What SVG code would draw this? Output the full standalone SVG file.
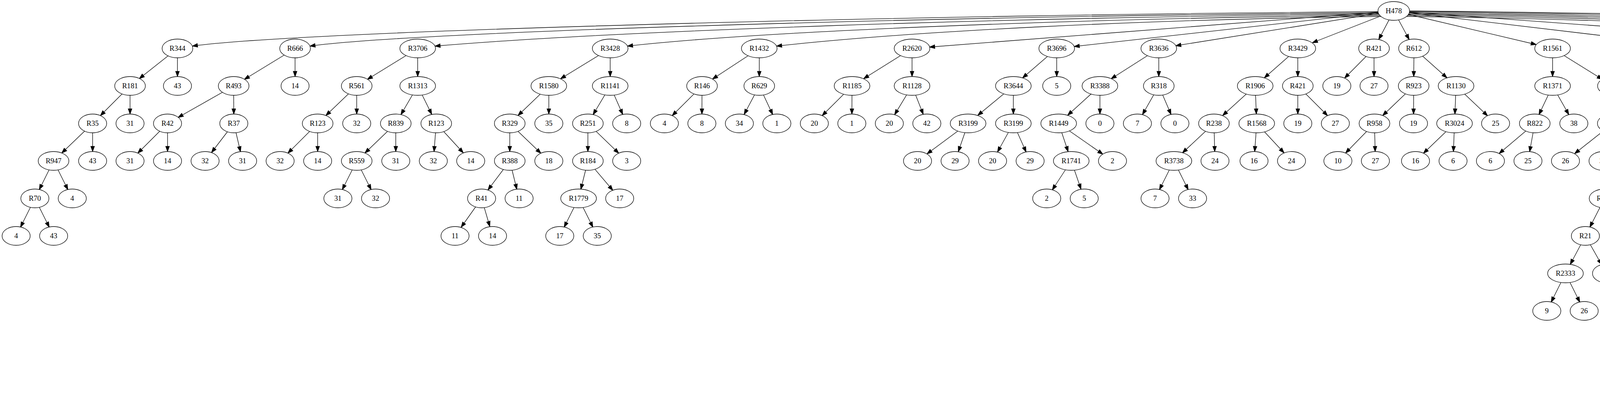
<svg xmlns="http://www.w3.org/2000/svg" width="6469" height="1019" viewBox="0 0 6469 1019">
<style>
.node ellipse{fill:#fff;stroke:#000;stroke-width:1.33}
.node text{font-family:"Liberation Serif","Times New Roman",serif;font-size:18.67px;text-anchor:middle;fill:#000}
#edges line,#edges path{stroke:#000;stroke-width:1.33;fill:none}
.mk{fill:#000;stroke:#000;stroke-width:1.33}
.c{marker-end:url(#m0)}
.e24{marker-end:url(#m24)}.e25{marker-end:url(#m25)}.e26{marker-end:url(#m26)}.e27{marker-end:url(#m27)}
.e28{marker-end:url(#m28)}.e29{marker-end:url(#m29)}.e30{marker-end:url(#m30)}.e31{marker-end:url(#m31)}
.e32{marker-end:url(#m32)}.e33{marker-end:url(#m33)}.e34{marker-end:url(#m34)}.e35{marker-end:url(#m35)}
.e40{marker-end:url(#m40)}.e43{marker-end:url(#m43)}.e44{marker-end:url(#m44)}.e45{marker-end:url(#m45)}
</style>
<defs>
<marker id="m0" markerUnits="userSpaceOnUse" viewBox="-80 -10 90 20" markerWidth="90" markerHeight="20" refX="0" refY="0" orient="auto"><path class="mk" d="M-13.3,-4.67L0,0L-13.3,4.67Z"/></marker>
<marker id="m24" markerUnits="userSpaceOnUse" viewBox="-80 -10 90 20" markerWidth="90" markerHeight="20" refX="0" refY="0" orient="auto"><path class="mk" d="M-37.3,-4.67L-24,0L-37.3,4.67Z"/></marker>
<marker id="m25" markerUnits="userSpaceOnUse" viewBox="-80 -10 90 20" markerWidth="90" markerHeight="20" refX="0" refY="0" orient="auto"><path class="mk" d="M-38.3,-4.67L-25,0L-38.3,4.67Z"/></marker>
<marker id="m26" markerUnits="userSpaceOnUse" viewBox="-80 -10 90 20" markerWidth="90" markerHeight="20" refX="0" refY="0" orient="auto"><path class="mk" d="M-39.3,-4.67L-26,0L-39.3,4.67Z"/></marker>
<marker id="m27" markerUnits="userSpaceOnUse" viewBox="-80 -10 90 20" markerWidth="90" markerHeight="20" refX="0" refY="0" orient="auto"><path class="mk" d="M-40.3,-4.67L-27,0L-40.3,4.67Z"/></marker>
<marker id="m28" markerUnits="userSpaceOnUse" viewBox="-80 -10 90 20" markerWidth="90" markerHeight="20" refX="0" refY="0" orient="auto"><path class="mk" d="M-41.3,-4.67L-28,0L-41.3,4.67Z"/></marker>
<marker id="m29" markerUnits="userSpaceOnUse" viewBox="-80 -10 90 20" markerWidth="90" markerHeight="20" refX="0" refY="0" orient="auto"><path class="mk" d="M-42.3,-4.67L-29,0L-42.3,4.67Z"/></marker>
<marker id="m30" markerUnits="userSpaceOnUse" viewBox="-80 -10 90 20" markerWidth="90" markerHeight="20" refX="0" refY="0" orient="auto"><path class="mk" d="M-43.3,-4.67L-30,0L-43.3,4.67Z"/></marker>
<marker id="m31" markerUnits="userSpaceOnUse" viewBox="-80 -10 90 20" markerWidth="90" markerHeight="20" refX="0" refY="0" orient="auto"><path class="mk" d="M-44.3,-4.67L-31,0L-44.3,4.67Z"/></marker>
<marker id="m32" markerUnits="userSpaceOnUse" viewBox="-80 -10 90 20" markerWidth="90" markerHeight="20" refX="0" refY="0" orient="auto"><path class="mk" d="M-45.3,-4.67L-32,0L-45.3,4.67Z"/></marker>
<marker id="m33" markerUnits="userSpaceOnUse" viewBox="-80 -10 90 20" markerWidth="90" markerHeight="20" refX="0" refY="0" orient="auto"><path class="mk" d="M-46.3,-4.67L-33,0L-46.3,4.67Z"/></marker>
<marker id="m34" markerUnits="userSpaceOnUse" viewBox="-80 -10 90 20" markerWidth="90" markerHeight="20" refX="0" refY="0" orient="auto"><path class="mk" d="M-47.3,-4.67L-34,0L-47.3,4.67Z"/></marker>
<marker id="m35" markerUnits="userSpaceOnUse" viewBox="-80 -10 90 20" markerWidth="90" markerHeight="20" refX="0" refY="0" orient="auto"><path class="mk" d="M-48.3,-4.67L-35,0L-48.3,4.67Z"/></marker>
<marker id="m40" markerUnits="userSpaceOnUse" viewBox="-80 -10 90 20" markerWidth="90" markerHeight="20" refX="0" refY="0" orient="auto"><path class="mk" d="M-53.3,-4.67L-40,0L-53.3,4.67Z"/></marker>
<marker id="m43" markerUnits="userSpaceOnUse" viewBox="-80 -10 90 20" markerWidth="90" markerHeight="20" refX="0" refY="0" orient="auto"><path class="mk" d="M-56.3,-4.67L-43,0L-56.3,4.67Z"/></marker>
<marker id="m44" markerUnits="userSpaceOnUse" viewBox="-80 -10 90 20" markerWidth="90" markerHeight="20" refX="0" refY="0" orient="auto"><path class="mk" d="M-57.3,-4.67L-44,0L-57.3,4.67Z"/></marker>
<marker id="m45" markerUnits="userSpaceOnUse" viewBox="-80 -10 90 20" markerWidth="90" markerHeight="20" refX="0" refY="0" orient="auto"><path class="mk" d="M-58.3,-4.67L-45,0L-58.3,4.67Z"/></marker>
</defs>
<rect x="0" y="0" width="6469" height="1019" fill="#fff"/>
<g id="edges">
<path class="c" d="M3527.6,30 C2313.5,38 755.4,80 492.4,118"/>
<path class="c" d="M3528.4,33 C2434.4,41 1069.3,80 793.5,118"/>
<path class="c" d="M3529.8,36 C2563.3,44 1562.1,80 1113.6,118"/>
<path class="c" d="M3532,39 C2761.8,47 1943.7,80 1606.4,118"/>
<path class="c" d="M3535.1,42 C2916.3,50 2334.8,80 1988,118"/>
<line x1="3568" y1="28" x2="2334.8" y2="124" class="e45"/>
<line x1="3568" y1="28" x2="2705.2" y2="124" class="e45"/>
<line x1="3568" y1="28" x2="2966.5" y2="124" class="e44"/>
<line x1="3568" y1="28" x2="3322.4" y2="124" class="e40"/>
<line x1="3568" y1="28" x2="3517.5" y2="124" class="e26"/>
<line x1="3568" y1="28" x2="3619.8" y2="124" class="e26"/>
<line x1="3568" y1="28" x2="3974.6" y2="124" class="e43"/>
<line x1="3568" y1="28" x2="4378.5" y2="124" class="e45"/>
<line x1="3568" y1="28" x2="4882.4" y2="124" class="e45"/>
<path class="c" d="M3600.9,42 C4181.7,50 4882.4,80 5052.8,118"/>
<path class="c" d="M3604,39 C4262.2,47 5097.1,80 5249.4,118"/>
<path class="c" d="M3606.2,36 C4344,44 5293.7,80 5450.8,118"/>
<path class="c" d="M3607.6,33 C4422.9,41 5488.9,80 5645.9,118"/>
<path class="c" d="M3608.4,30 C4524.3,38 5690.2,80 5898.1,118"/>
<path class="c" d="M3608.5,28 C4573.5,36 5942.4,80 6022,107"/>
<line x1="454.3" y1="124" x2="332.9" y2="220" class="e30"/>
<line x1="454.3" y1="124" x2="454.3" y2="220" class="e24"/>
<line x1="332.9" y1="220" x2="237.1" y2="316" class="e28"/>
<line x1="332.9" y1="220" x2="332.9" y2="316" class="e24"/>
<line x1="237.1" y1="316" x2="137.1" y2="412" class="e29"/>
<line x1="237.1" y1="316" x2="237.1" y2="412" class="e24"/>
<line x1="137.1" y1="412" x2="89.3" y2="508" class="e25"/>
<line x1="137.1" y1="412" x2="185" y2="508" class="e25"/>
<line x1="89.3" y1="508" x2="41.3" y2="604" class="e25"/>
<line x1="89.3" y1="508" x2="137.3" y2="604" class="e25"/>
<line x1="755.4" y1="124" x2="598.2" y2="220" class="e32"/>
<line x1="755.4" y1="124" x2="755.4" y2="220" class="e24"/>
<line x1="598.2" y1="220" x2="428.9" y2="316" class="e31"/>
<line x1="598.2" y1="220" x2="598.6" y2="316" class="e24"/>
<line x1="428.9" y1="316" x2="332.9" y2="412" class="e28"/>
<line x1="428.9" y1="316" x2="428.9" y2="412" class="e24"/>
<line x1="598.6" y1="316" x2="525" y2="412" class="e27"/>
<line x1="598.6" y1="316" x2="621.1" y2="412" class="e24"/>
<line x1="1069.3" y1="124" x2="913.2" y2="220" class="e32"/>
<line x1="1069.3" y1="124" x2="1069.3" y2="220" class="e24"/>
<line x1="913.2" y1="220" x2="813.2" y2="316" class="e29"/>
<line x1="913.2" y1="220" x2="913.2" y2="316" class="e24"/>
<line x1="813.2" y1="316" x2="717.1" y2="412" class="e28"/>
<line x1="813.2" y1="316" x2="813.2" y2="412" class="e24"/>
<line x1="1069.3" y1="220" x2="1013.2" y2="316" class="e26"/>
<line x1="1069.3" y1="220" x2="1116.8" y2="316" class="e26"/>
<line x1="1013.2" y1="316" x2="913.2" y2="412" class="e29"/>
<line x1="1013.2" y1="316" x2="1013.2" y2="412" class="e24"/>
<line x1="913.2" y1="412" x2="865" y2="508" class="e25"/>
<line x1="913.2" y1="412" x2="961.4" y2="508" class="e25"/>
<line x1="1116.8" y1="316" x2="1109.3" y2="412" class="e24"/>
<line x1="1116.8" y1="316" x2="1205" y2="412" class="e28"/>
<line x1="1562.1" y1="124" x2="1405" y2="220" class="e35"/>
<line x1="1562.1" y1="124" x2="1562.1" y2="220" class="e24"/>
<line x1="1405" y1="220" x2="1305" y2="316" class="e29"/>
<line x1="1405" y1="220" x2="1405" y2="316" class="e24"/>
<line x1="1305" y1="316" x2="1305" y2="412" class="e24"/>
<line x1="1305" y1="316" x2="1405" y2="412" class="e28"/>
<line x1="1305" y1="412" x2="1232.9" y2="508" class="e27"/>
<line x1="1305" y1="412" x2="1328.9" y2="508" class="e24"/>
<line x1="1232.9" y1="508" x2="1164.9" y2="604" class="e27"/>
<line x1="1232.9" y1="508" x2="1260.9" y2="604" class="e25"/>
<line x1="1562.1" y1="220" x2="1505" y2="316" class="e26"/>
<line x1="1562.1" y1="220" x2="1604.3" y2="316" class="e25"/>
<line x1="1505" y1="316" x2="1505" y2="412" class="e24"/>
<line x1="1505" y1="316" x2="1604.3" y2="412" class="e28"/>
<line x1="1505" y1="412" x2="1481.1" y2="508" class="e24"/>
<line x1="1505" y1="412" x2="1586.4" y2="508" class="e27"/>
<line x1="1481.1" y1="508" x2="1433" y2="604" class="e25"/>
<line x1="1481.1" y1="508" x2="1529" y2="604" class="e25"/>
<line x1="1943.7" y1="124" x2="1797.2" y2="220" class="e32"/>
<line x1="1943.7" y1="124" x2="1943.7" y2="220" class="e24"/>
<line x1="1797.2" y1="220" x2="1700.8" y2="316" class="e28"/>
<line x1="1797.2" y1="220" x2="1796.8" y2="316" class="e24"/>
<line x1="1943.7" y1="220" x2="1892.8" y2="316" class="e26"/>
<line x1="1943.7" y1="220" x2="1988.75" y2="316" class="e25"/>
<line x1="2334.8" y1="124" x2="2181.2" y2="220" class="e35"/>
<line x1="2334.8" y1="124" x2="2334.8" y2="220" class="e24"/>
<line x1="2181.2" y1="220" x2="2084.7" y2="316" class="e28"/>
<line x1="2181.2" y1="220" x2="2180.7" y2="316" class="e24"/>
<line x1="2334.8" y1="220" x2="2276.7" y2="316" class="e26"/>
<line x1="2334.8" y1="220" x2="2372.7" y2="316" class="e25"/>
<line x1="2705.2" y1="124" x2="2594.2" y2="220" class="e31"/>
<line x1="2705.2" y1="124" x2="2705.2" y2="220" class="e24"/>
<line x1="2594.2" y1="220" x2="2478.3" y2="316" class="e32"/>
<line x1="2594.2" y1="220" x2="2594.2" y2="316" class="e24"/>
<line x1="2478.3" y1="316" x2="2348.9" y2="412" class="e30"/>
<line x1="2478.3" y1="316" x2="2445" y2="412" class="e25"/>
<line x1="2594.2" y1="316" x2="2541" y2="412" class="e26"/>
<line x1="2594.2" y1="316" x2="2637.1" y2="412" class="e25"/>
<line x1="2966.5" y1="124" x2="2815.8" y2="220" class="e34"/>
<line x1="2966.5" y1="124" x2="2966.5" y2="220" class="e24"/>
<line x1="2815.8" y1="220" x2="2710.2" y2="316" class="e31"/>
<line x1="2815.8" y1="220" x2="2815.8" y2="316" class="e24"/>
<line x1="2710.2" y1="316" x2="2742.4" y2="412" class="e25"/>
<line x1="2710.2" y1="316" x2="2848" y2="412" class="e30"/>
<line x1="2742.4" y1="412" x2="2679.6" y2="508" class="e26"/>
<line x1="2742.4" y1="412" x2="2775.6" y2="508" class="e25"/>
<line x1="2966.5" y1="220" x2="2911.8" y2="316" class="e26"/>
<line x1="2966.5" y1="220" x2="3007.8" y2="316" class="e25"/>
<line x1="3322.4" y1="124" x2="3213.3" y2="220" class="e31"/>
<line x1="3322.4" y1="124" x2="3322.4" y2="220" class="e24"/>
<line x1="3213.3" y1="220" x2="3107.7" y2="316" class="e30"/>
<line x1="3213.3" y1="220" x2="3217.2" y2="316" class="e24"/>
<line x1="3107.7" y1="316" x2="3005.1" y2="412" class="e30"/>
<line x1="3107.7" y1="316" x2="3110.4" y2="412" class="e24"/>
<line x1="3005.1" y1="412" x2="2956.9" y2="508" class="e25"/>
<line x1="3005.1" y1="412" x2="3053" y2="508" class="e25"/>
<line x1="3217.2" y1="316" x2="3210.3" y2="412" class="e24"/>
<line x1="3217.2" y1="316" x2="3306.3" y2="412" class="e28"/>
<line x1="3322.4" y1="220" x2="3322.4" y2="316" class="e24"/>
<line x1="3322.4" y1="220" x2="3418.5" y2="316" class="e28"/>
<line x1="3517.5" y1="124" x2="3422.3" y2="220" class="e28"/>
<line x1="3517.5" y1="124" x2="3517.5" y2="220" class="e24"/>
<line x1="3619.8" y1="124" x2="3619" y2="220" class="e24"/>
<line x1="3619.8" y1="124" x2="3727.5" y2="220" class="e31"/>
<line x1="3619" y1="220" x2="3518.6" y2="316" class="e29"/>
<line x1="3619" y1="220" x2="3618.6" y2="316" class="e24"/>
<line x1="3518.6" y1="316" x2="3425" y2="412" class="e28"/>
<line x1="3518.6" y1="316" x2="3521" y2="412" class="e24"/>
<line x1="3727.5" y1="220" x2="3723.6" y2="316" class="e24"/>
<line x1="3727.5" y1="220" x2="3828.7" y2="316" class="e28"/>
<line x1="3723.6" y1="316" x2="3623.7" y2="412" class="e28"/>
<line x1="3723.6" y1="316" x2="3719.8" y2="412" class="e24"/>
<line x1="3974.6" y1="124" x2="3974.6" y2="220" class="e24"/>
<line x1="3974.6" y1="124" x2="4129.1" y2="220" class="e32"/>
<line x1="3974.6" y1="220" x2="3929" y2="316" class="e25"/>
<line x1="3974.6" y1="220" x2="4029" y2="316" class="e26"/>
<line x1="3929" y1="316" x2="3815.5" y2="412" class="e29"/>
<line x1="3929" y1="316" x2="3911.6" y2="412" class="e24"/>
<line x1="4129.1" y1="220" x2="4128.7" y2="316" class="e24"/>
<line x1="4129.1" y1="220" x2="4229.1" y2="316" class="e28"/>
<line x1="4128.7" y1="316" x2="4007.6" y2="412" class="e30"/>
<line x1="4128.7" y1="316" x2="4103.8" y2="412" class="e24"/>
<line x1="4378.5" y1="124" x2="4378.5" y2="220" class="e24"/>
<line x1="4378.5" y1="124" x2="4661.3" y2="220" class="e40"/>
<line x1="4378.5" y1="220" x2="4329.1" y2="316" class="e26"/>
<line x1="4378.5" y1="220" x2="4429.5" y2="316" class="e26"/>
<line x1="4329.1" y1="316" x2="4203.8" y2="412" class="e31"/>
<line x1="4329.1" y1="316" x2="4303.8" y2="412" class="e24"/>
<line x1="4203.8" y1="412" x2="4107.7" y2="508" class="e29"/>
<line x1="4203.8" y1="412" x2="4207.7" y2="508" class="e24"/>
<line x1="4107.7" y1="508" x2="4058.6" y2="604" class="e25"/>
<line x1="4107.7" y1="508" x2="4155.2" y2="604" class="e25"/>
<line x1="4058.6" y1="604" x2="4007.6" y2="700" class="e26"/>
<line x1="4058.6" y1="604" x2="4112.8" y2="700" class="e26"/>
<line x1="4007.6" y1="700" x2="3959.8" y2="796" class="e25"/>
<line x1="4007.6" y1="700" x2="4055.5" y2="796" class="e25"/>
<line x1="4429.5" y1="316" x2="4408.8" y2="412" class="e24"/>
<line x1="4429.5" y1="316" x2="4525.2" y2="412" class="e30"/>
<line x1="4408.8" y1="412" x2="4310.4" y2="508" class="e28"/>
<line x1="4408.8" y1="412" x2="4406.1" y2="508" class="e24"/>
<line x1="4525.2" y1="412" x2="4502.2" y2="508" class="e24"/>
<line x1="4525.2" y1="412" x2="4597.9" y2="508" class="e27"/>
<line x1="4661.3" y1="220" x2="4661.3" y2="316" class="e24"/>
<line x1="4661.3" y1="220" x2="4786.4" y2="316" class="e30"/>
<line x1="4661.3" y1="316" x2="4641.1" y2="412" class="e24"/>
<line x1="4661.3" y1="316" x2="4746.6" y2="412" class="e28"/>
<line x1="4641.1" y1="412" x2="4694.1" y2="508" class="e26"/>
<line x1="4641.1" y1="412" x2="4790.2" y2="508" class="e31"/>
<line x1="4786.4" y1="316" x2="4842.2" y2="412" class="e26"/>
<line x1="4786.4" y1="316" x2="4938.3" y2="412" class="e31"/>
<line x1="4882.4" y1="124" x2="4882.4" y2="220" class="e24"/>
<line x1="4882.4" y1="124" x2="4991.9" y2="220" class="e31"/>
<line x1="4882.4" y1="220" x2="4886.6" y2="316" class="e24"/>
<line x1="4882.4" y1="220" x2="4986.5" y2="316" class="e29"/>
<line x1="4886.6" y1="316" x2="5034.4" y2="412" class="e31"/>
<line x1="4886.6" y1="316" x2="5130.4" y2="412" class="e33"/>
<line x1="4991.9" y1="220" x2="5091.8" y2="316" class="e30"/>
<line x1="4991.9" y1="220" x2="5196.6" y2="316" class="e33"/>
<line x1="5091.8" y1="316" x2="5230.7" y2="412" class="e32"/>
<line x1="5091.8" y1="316" x2="5330.1" y2="412" class="e33"/>
<line x1="5230.7" y1="412" x2="5143.8" y2="508" class="e28"/>
<line x1="5230.7" y1="412" x2="5239.5" y2="508" class="e24"/>
<line x1="5097.1" y1="124" x2="5097.1" y2="220" class="e24"/>
<line x1="5097.1" y1="124" x2="5193.2" y2="220" class="e28"/>
<line x1="5293.7" y1="124" x2="5293.7" y2="220" class="e24"/>
<line x1="5293.7" y1="124" x2="5392.8" y2="220" class="e28"/>
<line x1="5293.7" y1="220" x2="5291.8" y2="316" class="e24"/>
<line x1="5293.7" y1="220" x2="5389" y2="316" class="e28"/>
<line x1="5488.9" y1="124" x2="5488.9" y2="220" class="e24"/>
<line x1="5488.9" y1="124" x2="5585" y2="220" class="e28"/>
<line x1="5690.2" y1="124" x2="5690.2" y2="220" class="e24"/>
<line x1="5690.2" y1="124" x2="5837.2" y2="220" class="e32"/>
<line x1="5690.2" y1="220" x2="5544.8" y2="316" class="e34"/>
<line x1="5690.2" y1="220" x2="5690.2" y2="316" class="e24"/>
<line x1="5544.8" y1="316" x2="5435.7" y2="412" class="e31"/>
<line x1="5544.8" y1="316" x2="5544.8" y2="412" class="e24"/>
<line x1="5435.7" y1="412" x2="5343.5" y2="508" class="e28"/>
<line x1="5435.7" y1="412" x2="5439.5" y2="508" class="e24"/>
<line x1="5544.8" y1="412" x2="5542.1" y2="508" class="e24"/>
<line x1="5544.8" y1="412" x2="5638.2" y2="508" class="e28"/>
<line x1="5542.1" y1="508" x2="5494.3" y2="604" class="e25"/>
<line x1="5542.1" y1="508" x2="5590.3" y2="604" class="e25"/>
<line x1="5690.2" y1="316" x2="5645" y2="412" class="e25"/>
<line x1="5690.2" y1="316" x2="5741.1" y2="412" class="e26"/>
<line x1="5837.2" y1="220" x2="5837.2" y2="316" class="e24"/>
<line x1="5837.2" y1="220" x2="5937" y2="316" class="e28"/>
<line x1="5837.2" y1="316" x2="5837.2" y2="412" class="e24"/>
<line x1="5837.2" y1="316" x2="5932.8" y2="412" class="e28"/>
<line x1="5942.4" y1="124" x2="6087.7" y2="220" class="e34"/>
<line x1="5942.4" y1="124" x2="6331.5" y2="220" class="e35"/>
<line x1="6087.7" y1="220" x2="6087.7" y2="316" class="e24"/>
<line x1="6087.7" y1="220" x2="6226.3" y2="316" class="e34"/>
<line x1="6087.7" y1="316" x2="6038.3" y2="412" class="e26"/>
<line x1="6087.7" y1="316" x2="6143.9" y2="412" class="e26"/>
<line x1="6226.3" y1="316" x2="6249" y2="412" class="e24"/>
<line x1="6226.3" y1="316" x2="6354.6" y2="412" class="e30"/>
<line x1="6038.3" y1="412" x2="5957.1" y2="508" class="e28"/>
<line x1="6038.3" y1="412" x2="6057.2" y2="508" class="e24"/>
<line x1="6249" y1="412" x2="6239.8" y2="508" class="e24"/>
<line x1="6249" y1="412" x2="6340" y2="508" class="e28"/>
<line x1="5957.1" y1="508" x2="5934.7" y2="604" class="e24"/>
<line x1="5957.1" y1="508" x2="6034.1" y2="604" class="e27"/>
<line x1="6239.8" y1="508" x2="6185.1" y2="604" class="e26"/>
<line x1="6239.8" y1="508" x2="6285.3" y2="604" class="e25"/>
<line x1="5934.7" y1="604" x2="5890.4" y2="700" class="e25"/>
<line x1="5934.7" y1="604" x2="5990.2" y2="700" class="e26"/>
<line x1="6185.1" y1="604" x2="6129.3" y2="700" class="e26"/>
<line x1="6185.1" y1="604" x2="6229" y2="700" class="e25"/>
<line x1="5890.4" y1="700" x2="5860" y2="796" class="e25"/>
<line x1="5890.4" y1="700" x2="5959.4" y2="796" class="e27"/>
<line x1="6129.3" y1="700" x2="6059.5" y2="796" class="e27"/>
<line x1="6129.3" y1="700" x2="6159.7" y2="796" class="e25"/>
<line x1="5860" y1="796" x2="5814.2" y2="892" class="e25"/>
<line x1="5860" y1="796" x2="5910.1" y2="892" class="e26"/>
<line x1="6059.5" y1="796" x2="6010.6" y2="892" class="e25"/>
<line x1="6059.5" y1="796" x2="6106.1" y2="892" class="e25"/>
<line x1="5814.2" y1="892" x2="5766.4" y2="988" class="e25"/>
<line x1="5814.2" y1="892" x2="5862.4" y2="988" class="e25"/>
<line x1="6010.6" y1="892" x2="5982.1" y2="988" class="e25"/>
<line x1="6010.6" y1="892" x2="6078" y2="988" class="e27"/>
<line x1="6331.5" y1="220" x2="6331.5" y2="316" class="e24"/>
<line x1="6331.5" y1="220" x2="6427.8" y2="316" class="e28"/>
</g>
<g id="nodes">
<g id="n0" class="node"><ellipse cx="3568" cy="28" rx="40.5" ry="24"/><text x="3568" y="34">H478</text></g>
<g id="n1" class="node"><ellipse cx="454.3" cy="124" rx="39.3" ry="24"/><text x="454.3" y="130">R344</text></g>
<g id="n2" class="node"><ellipse cx="755.4" cy="124" rx="39.3" ry="24"/><text x="755.4" y="130">R666</text></g>
<g id="n3" class="node"><ellipse cx="1069.3" cy="124" rx="45.7" ry="24"/><text x="1069.3" y="130">R3706</text></g>
<g id="n4" class="node"><ellipse cx="1562.1" cy="124" rx="45.7" ry="24"/><text x="1562.1" y="130">R3428</text></g>
<g id="n5" class="node"><ellipse cx="1943.7" cy="124" rx="45.7" ry="24"/><text x="1943.7" y="130">R1432</text></g>
<g id="n6" class="node"><ellipse cx="2334.8" cy="124" rx="45.7" ry="24"/><text x="2334.8" y="130">R2620</text></g>
<g id="n7" class="node"><ellipse cx="2705.2" cy="124" rx="45.7" ry="24"/><text x="2705.2" y="130">R3696</text></g>
<g id="n8" class="node"><ellipse cx="2966.5" cy="124" rx="45.7" ry="24"/><text x="2966.5" y="130">R3636</text></g>
<g id="n9" class="node"><ellipse cx="3322.4" cy="124" rx="45.7" ry="24"/><text x="3322.4" y="130">R3429</text></g>
<g id="n10" class="node"><ellipse cx="3517.5" cy="124" rx="39.3" ry="24"/><text x="3517.5" y="130">R421</text></g>
<g id="n11" class="node"><ellipse cx="3619.8" cy="124" rx="39.3" ry="24"/><text x="3619.8" y="130">R612</text></g>
<g id="n12" class="node"><ellipse cx="3974.6" cy="124" rx="45.7" ry="24"/><text x="3974.6" y="130">R1561</text></g>
<g id="n13" class="node"><ellipse cx="4378.5" cy="124" rx="45.7" ry="24"/><text x="4378.5" y="130">R3610</text></g>
<g id="n14" class="node"><ellipse cx="4882.4" cy="124" rx="45.7" ry="24"/><text x="4882.4" y="130">R3269</text></g>
<g id="n15" class="node"><ellipse cx="5097.1" cy="124" rx="45.7" ry="24"/><text x="5097.1" y="130">R1121</text></g>
<g id="n16" class="node"><ellipse cx="5293.7" cy="124" rx="45.7" ry="24"/><text x="5293.7" y="130">R3071</text></g>
<g id="n17" class="node"><ellipse cx="5488.9" cy="124" rx="39.3" ry="24"/><text x="5488.9" y="130">R116</text></g>
<g id="n18" class="node"><ellipse cx="5690.2" cy="124" rx="45.7" ry="24"/><text x="5690.2" y="130">R3444</text></g>
<g id="n19" class="node"><ellipse cx="5942.4" cy="124" rx="45.7" ry="24"/><text x="5942.4" y="130">R3417</text></g>
<g id="n20" class="node"><ellipse cx="6048" cy="124" rx="36" ry="24"/><text x="6048" y="130">39</text></g>
<g id="a1" class="node"><ellipse cx="332.9" cy="220" rx="39.3" ry="24"/><text x="332.9" y="226">R181</text></g>
<g id="a2" class="node"><ellipse cx="454.3" cy="220" rx="36" ry="24"/><text x="454.3" y="226">43</text></g>
<g id="a3" class="node"><ellipse cx="237.1" cy="316" rx="36" ry="24"/><text x="237.1" y="322">R35</text></g>
<g id="a4" class="node"><ellipse cx="332.9" cy="316" rx="36" ry="24"/><text x="332.9" y="322">31</text></g>
<g id="a5" class="node"><ellipse cx="137.1" cy="412" rx="39.3" ry="24"/><text x="137.1" y="418">R947</text></g>
<g id="a6" class="node"><ellipse cx="237.1" cy="412" rx="36" ry="24"/><text x="237.1" y="418">43</text></g>
<g id="a7" class="node"><ellipse cx="89.3" cy="508" rx="36" ry="24"/><text x="89.3" y="514">R70</text></g>
<g id="a8" class="node"><ellipse cx="185" cy="508" rx="36" ry="24"/><text x="185" y="514">4</text></g>
<g id="a9" class="node"><ellipse cx="41.3" cy="604" rx="36" ry="24"/><text x="41.3" y="610">4</text></g>
<g id="a10" class="node"><ellipse cx="137.3" cy="604" rx="36" ry="24"/><text x="137.3" y="610">43</text></g>
<g id="b1" class="node"><ellipse cx="598.2" cy="220" rx="39.3" ry="24"/><text x="598.2" y="226">R493</text></g>
<g id="b2" class="node"><ellipse cx="755.4" cy="220" rx="36" ry="24"/><text x="755.4" y="226">14</text></g>
<g id="b3" class="node"><ellipse cx="428.9" cy="316" rx="36" ry="24"/><text x="428.9" y="322">R42</text></g>
<g id="b4" class="node"><ellipse cx="598.6" cy="316" rx="36" ry="24"/><text x="598.6" y="322">R37</text></g>
<g id="b5" class="node"><ellipse cx="332.9" cy="412" rx="36" ry="24"/><text x="332.9" y="418">31</text></g>
<g id="b6" class="node"><ellipse cx="428.9" cy="412" rx="36" ry="24"/><text x="428.9" y="418">14</text></g>
<g id="b7" class="node"><ellipse cx="525" cy="412" rx="36" ry="24"/><text x="525" y="418">32</text></g>
<g id="b8" class="node"><ellipse cx="621.1" cy="412" rx="36" ry="24"/><text x="621.1" y="418">31</text></g>
<g id="c1" class="node"><ellipse cx="913.2" cy="220" rx="39.3" ry="24"/><text x="913.2" y="226">R561</text></g>
<g id="c2" class="node"><ellipse cx="1069.3" cy="220" rx="45.7" ry="24"/><text x="1069.3" y="226">R1313</text></g>
<g id="c3" class="node"><ellipse cx="813.2" cy="316" rx="39.3" ry="24"/><text x="813.2" y="322">R123</text></g>
<g id="c4" class="node"><ellipse cx="913.2" cy="316" rx="36" ry="24"/><text x="913.2" y="322">32</text></g>
<g id="c5" class="node"><ellipse cx="1013.2" cy="316" rx="39.3" ry="24"/><text x="1013.2" y="322">R839</text></g>
<g id="c6" class="node"><ellipse cx="1116.8" cy="316" rx="39.3" ry="24"/><text x="1116.8" y="322">R123</text></g>
<g id="c7" class="node"><ellipse cx="717.1" cy="412" rx="36" ry="24"/><text x="717.1" y="418">32</text></g>
<g id="c8" class="node"><ellipse cx="813.2" cy="412" rx="36" ry="24"/><text x="813.2" y="418">14</text></g>
<g id="c9" class="node"><ellipse cx="913.2" cy="412" rx="39.3" ry="24"/><text x="913.2" y="418">R559</text></g>
<g id="c10" class="node"><ellipse cx="1013.2" cy="412" rx="36" ry="24"/><text x="1013.2" y="418">31</text></g>
<g id="c11" class="node"><ellipse cx="1109.3" cy="412" rx="36" ry="24"/><text x="1109.3" y="418">32</text></g>
<g id="c12" class="node"><ellipse cx="1205" cy="412" rx="36" ry="24"/><text x="1205" y="418">14</text></g>
<g id="c13" class="node"><ellipse cx="865" cy="508" rx="36" ry="24"/><text x="865" y="514">31</text></g>
<g id="c14" class="node"><ellipse cx="961.4" cy="508" rx="36" ry="24"/><text x="961.4" y="514">32</text></g>
<g id="d1" class="node"><ellipse cx="1405" cy="220" rx="45.7" ry="24"/><text x="1405" y="226">R1580</text></g>
<g id="d2" class="node"><ellipse cx="1562.1" cy="220" rx="45.7" ry="24"/><text x="1562.1" y="226">R1141</text></g>
<g id="d3" class="node"><ellipse cx="1305" cy="316" rx="39.3" ry="24"/><text x="1305" y="322">R329</text></g>
<g id="d4" class="node"><ellipse cx="1405" cy="316" rx="36" ry="24"/><text x="1405" y="322">35</text></g>
<g id="d5" class="node"><ellipse cx="1505" cy="316" rx="39.3" ry="24"/><text x="1505" y="322">R251</text></g>
<g id="d6" class="node"><ellipse cx="1604.3" cy="316" rx="36" ry="24"/><text x="1604.3" y="322">8</text></g>
<g id="d7" class="node"><ellipse cx="1305" cy="412" rx="39.3" ry="24"/><text x="1305" y="418">R388</text></g>
<g id="d8" class="node"><ellipse cx="1405" cy="412" rx="36" ry="24"/><text x="1405" y="418">18</text></g>
<g id="d9" class="node"><ellipse cx="1505" cy="412" rx="39.3" ry="24"/><text x="1505" y="418">R184</text></g>
<g id="d10" class="node"><ellipse cx="1604.3" cy="412" rx="36" ry="24"/><text x="1604.3" y="418">3</text></g>
<g id="d11" class="node"><ellipse cx="1232.9" cy="508" rx="36" ry="24"/><text x="1232.9" y="514">R41</text></g>
<g id="d12" class="node"><ellipse cx="1328.9" cy="508" rx="36" ry="24"/><text x="1328.9" y="514">11</text></g>
<g id="d13" class="node"><ellipse cx="1481.1" cy="508" rx="45.7" ry="24"/><text x="1481.1" y="514">R1779</text></g>
<g id="d14" class="node"><ellipse cx="1586.4" cy="508" rx="36" ry="24"/><text x="1586.4" y="514">17</text></g>
<g id="d15" class="node"><ellipse cx="1164.9" cy="604" rx="36" ry="24"/><text x="1164.9" y="610">11</text></g>
<g id="d16" class="node"><ellipse cx="1260.9" cy="604" rx="36" ry="24"/><text x="1260.9" y="610">14</text></g>
<g id="d17" class="node"><ellipse cx="1433" cy="604" rx="36" ry="24"/><text x="1433" y="610">17</text></g>
<g id="d18" class="node"><ellipse cx="1529" cy="604" rx="36" ry="24"/><text x="1529" y="610">35</text></g>
<g id="e1" class="node"><ellipse cx="1797.2" cy="220" rx="39.3" ry="24"/><text x="1797.2" y="226">R146</text></g>
<g id="e2" class="node"><ellipse cx="1943.7" cy="220" rx="39.3" ry="24"/><text x="1943.7" y="226">R629</text></g>
<g id="e3" class="node"><ellipse cx="1700.8" cy="316" rx="36" ry="24"/><text x="1700.8" y="322">4</text></g>
<g id="e4" class="node"><ellipse cx="1796.8" cy="316" rx="36" ry="24"/><text x="1796.8" y="322">8</text></g>
<g id="e5" class="node"><ellipse cx="1892.8" cy="316" rx="36" ry="24"/><text x="1892.8" y="322">34</text></g>
<g id="e6" class="node"><ellipse cx="1988.75" cy="316" rx="36" ry="24"/><text x="1988.75" y="322">1</text></g>
<g id="f1" class="node"><ellipse cx="2181.2" cy="220" rx="45.7" ry="24"/><text x="2181.2" y="226">R1185</text></g>
<g id="f2" class="node"><ellipse cx="2334.8" cy="220" rx="45.7" ry="24"/><text x="2334.8" y="226">R1128</text></g>
<g id="f3" class="node"><ellipse cx="2084.7" cy="316" rx="36" ry="24"/><text x="2084.7" y="322">20</text></g>
<g id="f4" class="node"><ellipse cx="2180.7" cy="316" rx="36" ry="24"/><text x="2180.7" y="322">1</text></g>
<g id="f5" class="node"><ellipse cx="2276.7" cy="316" rx="36" ry="24"/><text x="2276.7" y="322">20</text></g>
<g id="f6" class="node"><ellipse cx="2372.7" cy="316" rx="36" ry="24"/><text x="2372.7" y="322">42</text></g>
<g id="g1" class="node"><ellipse cx="2594.2" cy="220" rx="45.7" ry="24"/><text x="2594.2" y="226">R3644</text></g>
<g id="g2" class="node"><ellipse cx="2705.2" cy="220" rx="36" ry="24"/><text x="2705.2" y="226">5</text></g>
<g id="g3" class="node"><ellipse cx="2478.3" cy="316" rx="45.7" ry="24"/><text x="2478.3" y="322">R3199</text></g>
<g id="g4" class="node"><ellipse cx="2594.2" cy="316" rx="45.7" ry="24"/><text x="2594.2" y="322">R3199</text></g>
<g id="g5" class="node"><ellipse cx="2348.9" cy="412" rx="36" ry="24"/><text x="2348.9" y="418">20</text></g>
<g id="g6" class="node"><ellipse cx="2445" cy="412" rx="36" ry="24"/><text x="2445" y="418">29</text></g>
<g id="g7" class="node"><ellipse cx="2541" cy="412" rx="36" ry="24"/><text x="2541" y="418">20</text></g>
<g id="g8" class="node"><ellipse cx="2637.1" cy="412" rx="36" ry="24"/><text x="2637.1" y="418">29</text></g>
<g id="h1" class="node"><ellipse cx="2815.8" cy="220" rx="45.7" ry="24"/><text x="2815.8" y="226">R3388</text></g>
<g id="h2" class="node"><ellipse cx="2966.5" cy="220" rx="39.3" ry="24"/><text x="2966.5" y="226">R318</text></g>
<g id="h3" class="node"><ellipse cx="2710.2" cy="316" rx="45.7" ry="24"/><text x="2710.2" y="322">R1449</text></g>
<g id="h4" class="node"><ellipse cx="2815.8" cy="316" rx="36" ry="24"/><text x="2815.8" y="322">0</text></g>
<g id="h5" class="node"><ellipse cx="2911.8" cy="316" rx="36" ry="24"/><text x="2911.8" y="322">7</text></g>
<g id="h6" class="node"><ellipse cx="3007.8" cy="316" rx="36" ry="24"/><text x="3007.8" y="322">0</text></g>
<g id="h7" class="node"><ellipse cx="2742.4" cy="412" rx="45.7" ry="24"/><text x="2742.4" y="418">R1741</text></g>
<g id="h8" class="node"><ellipse cx="2848" cy="412" rx="36" ry="24"/><text x="2848" y="418">2</text></g>
<g id="h9" class="node"><ellipse cx="2679.6" cy="508" rx="36" ry="24"/><text x="2679.6" y="514">2</text></g>
<g id="h10" class="node"><ellipse cx="2775.6" cy="508" rx="36" ry="24"/><text x="2775.6" y="514">5</text></g>
<g id="i1" class="node"><ellipse cx="3213.3" cy="220" rx="45.7" ry="24"/><text x="3213.3" y="226">R1906</text></g>
<g id="i2" class="node"><ellipse cx="3322.4" cy="220" rx="39.3" ry="24"/><text x="3322.4" y="226">R421</text></g>
<g id="i3" class="node"><ellipse cx="3107.7" cy="316" rx="39.3" ry="24"/><text x="3107.7" y="322">R238</text></g>
<g id="i4" class="node"><ellipse cx="3217.2" cy="316" rx="45.7" ry="24"/><text x="3217.2" y="322">R1568</text></g>
<g id="i5" class="node"><ellipse cx="3322.4" cy="316" rx="36" ry="24"/><text x="3322.4" y="322">19</text></g>
<g id="i6" class="node"><ellipse cx="3418.5" cy="316" rx="36" ry="24"/><text x="3418.5" y="322">27</text></g>
<g id="i7" class="node"><ellipse cx="3005.1" cy="412" rx="45.7" ry="24"/><text x="3005.1" y="418">R3738</text></g>
<g id="i8" class="node"><ellipse cx="3110.4" cy="412" rx="36" ry="24"/><text x="3110.4" y="418">24</text></g>
<g id="i9" class="node"><ellipse cx="3210.3" cy="412" rx="36" ry="24"/><text x="3210.3" y="418">16</text></g>
<g id="i10" class="node"><ellipse cx="3306.3" cy="412" rx="36" ry="24"/><text x="3306.3" y="418">24</text></g>
<g id="i11" class="node"><ellipse cx="2956.9" cy="508" rx="36" ry="24"/><text x="2956.9" y="514">7</text></g>
<g id="i12" class="node"><ellipse cx="3053" cy="508" rx="36" ry="24"/><text x="3053" y="514">33</text></g>
<g id="j1" class="node"><ellipse cx="3422.3" cy="220" rx="36" ry="24"/><text x="3422.3" y="226">19</text></g>
<g id="j2" class="node"><ellipse cx="3517.5" cy="220" rx="36" ry="24"/><text x="3517.5" y="226">27</text></g>
<g id="k1" class="node"><ellipse cx="3619" cy="220" rx="39.3" ry="24"/><text x="3619" y="226">R923</text></g>
<g id="k2" class="node"><ellipse cx="3727.5" cy="220" rx="45.7" ry="24"/><text x="3727.5" y="226">R1130</text></g>
<g id="k3" class="node"><ellipse cx="3518.6" cy="316" rx="39.3" ry="24"/><text x="3518.6" y="322">R958</text></g>
<g id="k4" class="node"><ellipse cx="3618.6" cy="316" rx="36" ry="24"/><text x="3618.6" y="322">19</text></g>
<g id="k5" class="node"><ellipse cx="3723.6" cy="316" rx="45.7" ry="24"/><text x="3723.6" y="322">R3024</text></g>
<g id="k6" class="node"><ellipse cx="3828.7" cy="316" rx="36" ry="24"/><text x="3828.7" y="322">25</text></g>
<g id="k7" class="node"><ellipse cx="3425" cy="412" rx="36" ry="24"/><text x="3425" y="418">10</text></g>
<g id="k8" class="node"><ellipse cx="3521" cy="412" rx="36" ry="24"/><text x="3521" y="418">27</text></g>
<g id="k9" class="node"><ellipse cx="3623.7" cy="412" rx="36" ry="24"/><text x="3623.7" y="418">16</text></g>
<g id="k10" class="node"><ellipse cx="3719.8" cy="412" rx="36" ry="24"/><text x="3719.8" y="418">6</text></g>
<g id="l1" class="node"><ellipse cx="3974.6" cy="220" rx="45.7" ry="24"/><text x="3974.6" y="226">R1371</text></g>
<g id="l2" class="node"><ellipse cx="4129.1" cy="220" rx="39.3" ry="24"/><text x="4129.1" y="226">R707</text></g>
<g id="l3" class="node"><ellipse cx="3929" cy="316" rx="39.3" ry="24"/><text x="3929" y="322">R822</text></g>
<g id="l4" class="node"><ellipse cx="4029" cy="316" rx="36" ry="24"/><text x="4029" y="322">38</text></g>
<g id="l5" class="node"><ellipse cx="4128.7" cy="316" rx="39.3" ry="24"/><text x="4128.7" y="322">R340</text></g>
<g id="l6" class="node"><ellipse cx="4229.1" cy="316" rx="36" ry="24"/><text x="4229.1" y="322">26</text></g>
<g id="l7" class="node"><ellipse cx="3815.5" cy="412" rx="36" ry="24"/><text x="3815.5" y="418">6</text></g>
<g id="l8" class="node"><ellipse cx="3911.6" cy="412" rx="36" ry="24"/><text x="3911.6" y="418">25</text></g>
<g id="l9" class="node"><ellipse cx="4007.6" cy="412" rx="36" ry="24"/><text x="4007.6" y="418">26</text></g>
<g id="l10" class="node"><ellipse cx="4103.8" cy="412" rx="36" ry="24"/><text x="4103.8" y="418">38</text></g>
<g id="m1" class="node"><ellipse cx="4378.5" cy="220" rx="45.7" ry="24"/><text x="4378.5" y="226">R3605</text></g>
<g id="m2" class="node"><ellipse cx="4661.3" cy="220" rx="45.7" ry="24"/><text x="4661.3" y="226">R1975</text></g>
<g id="m3" class="node"><ellipse cx="4329.1" cy="316" rx="39.3" ry="24"/><text x="4329.1" y="322">R963</text></g>
<g id="m4" class="node"><ellipse cx="4429.5" cy="316" rx="36" ry="24"/><text x="4429.5" y="322">R99</text></g>
<g id="m5" class="node"><ellipse cx="4661.3" cy="316" rx="45.7" ry="24"/><text x="4661.3" y="322">R1587</text></g>
<g id="m6" class="node"><ellipse cx="4786.4" cy="316" rx="36" ry="24"/><text x="4786.4" y="322">R63</text></g>
<g id="m7" class="node"><ellipse cx="4203.8" cy="412" rx="39.3" ry="24"/><text x="4203.8" y="418">R880</text></g>
<g id="m8" class="node"><ellipse cx="4303.8" cy="412" rx="36" ry="24"/><text x="4303.8" y="418">36</text></g>
<g id="m9" class="node"><ellipse cx="4408.8" cy="412" rx="45.7" ry="24"/><text x="4408.8" y="418">R2774</text></g>
<g id="m10" class="node"><ellipse cx="4525.2" cy="412" rx="45.7" ry="24"/><text x="4525.2" y="418">R2774</text></g>
<g id="m11" class="node"><ellipse cx="4641.1" cy="412" rx="45.7" ry="24"/><text x="4641.1" y="418">R2123</text></g>
<g id="m12" class="node"><ellipse cx="4746.6" cy="412" rx="36" ry="24"/><text x="4746.6" y="418">15</text></g>
<g id="m13" class="node"><ellipse cx="4842.2" cy="412" rx="36" ry="24"/><text x="4842.2" y="418">36</text></g>
<g id="m14" class="node"><ellipse cx="4938.3" cy="412" rx="36" ry="24"/><text x="4938.3" y="418">15</text></g>
<g id="m15" class="node"><ellipse cx="4107.7" cy="508" rx="39.3" ry="24"/><text x="4107.7" y="514">R296</text></g>
<g id="m16" class="node"><ellipse cx="4207.7" cy="508" rx="36" ry="24"/><text x="4207.7" y="514">9</text></g>
<g id="m17" class="node"><ellipse cx="4310.4" cy="508" rx="36" ry="24"/><text x="4310.4" y="514">9</text></g>
<g id="m18" class="node"><ellipse cx="4406.1" cy="508" rx="36" ry="24"/><text x="4406.1" y="514">36</text></g>
<g id="m19" class="node"><ellipse cx="4502.2" cy="508" rx="36" ry="24"/><text x="4502.2" y="514">9</text></g>
<g id="m20" class="node"><ellipse cx="4597.9" cy="508" rx="36" ry="24"/><text x="4597.9" y="514">36</text></g>
<g id="m21" class="node"><ellipse cx="4694.1" cy="508" rx="36" ry="24"/><text x="4694.1" y="514">15</text></g>
<g id="m22" class="node"><ellipse cx="4790.2" cy="508" rx="36" ry="24"/><text x="4790.2" y="514">36</text></g>
<g id="m23" class="node"><ellipse cx="4058.6" cy="604" rx="36" ry="24"/><text x="4058.6" y="610">R21</text></g>
<g id="m24" class="node"><ellipse cx="4155.2" cy="604" rx="36" ry="24"/><text x="4155.2" y="610">26</text></g>
<g id="m25" class="node"><ellipse cx="4007.6" cy="700" rx="45.7" ry="24"/><text x="4007.6" y="706">R2333</text></g>
<g id="m26" class="node"><ellipse cx="4112.8" cy="700" rx="36" ry="24"/><text x="4112.8" y="706">9</text></g>
<g id="m27" class="node"><ellipse cx="3959.8" cy="796" rx="36" ry="24"/><text x="3959.8" y="802">9</text></g>
<g id="m28" class="node"><ellipse cx="4055.5" cy="796" rx="36" ry="24"/><text x="4055.5" y="802">26</text></g>
<g id="o1" class="node"><ellipse cx="4882.4" cy="220" rx="39.3" ry="24"/><text x="4882.4" y="226">R915</text></g>
<g id="o2" class="node"><ellipse cx="4991.9" cy="220" rx="45.7" ry="24"/><text x="4991.9" y="226">R2257</text></g>
<g id="o3" class="node"><ellipse cx="4886.6" cy="316" rx="39.3" ry="24"/><text x="4886.6" y="322">R710</text></g>
<g id="o4" class="node"><ellipse cx="4986.5" cy="316" rx="36" ry="24"/><text x="4986.5" y="322">37</text></g>
<g id="o5" class="node"><ellipse cx="5091.8" cy="316" rx="45.7" ry="24"/><text x="5091.8" y="322">R1715</text></g>
<g id="o6" class="node"><ellipse cx="5196.6" cy="316" rx="36" ry="24"/><text x="5196.6" y="322">40</text></g>
<g id="o7" class="node"><ellipse cx="5034.4" cy="412" rx="36" ry="24"/><text x="5034.4" y="418">37</text></g>
<g id="o8" class="node"><ellipse cx="5130.4" cy="412" rx="36" ry="24"/><text x="5130.4" y="418">15</text></g>
<g id="o9" class="node"><ellipse cx="5230.7" cy="412" rx="39.3" ry="24"/><text x="5230.7" y="418">R417</text></g>
<g id="o10" class="node"><ellipse cx="5330.1" cy="412" rx="36" ry="24"/><text x="5330.1" y="418">41</text></g>
<g id="o11" class="node"><ellipse cx="5143.8" cy="508" rx="36" ry="24"/><text x="5143.8" y="514">41</text></g>
<g id="o12" class="node"><ellipse cx="5239.5" cy="508" rx="36" ry="24"/><text x="5239.5" y="514">37</text></g>
<g id="p1" class="node"><ellipse cx="5097.1" cy="220" rx="36" ry="24"/><text x="5097.1" y="226">41</text></g>
<g id="p2" class="node"><ellipse cx="5193.2" cy="220" rx="36" ry="24"/><text x="5193.2" y="226">40</text></g>
<g id="q1" class="node"><ellipse cx="5293.7" cy="220" rx="39.3" ry="24"/><text x="5293.7" y="226">R417</text></g>
<g id="q2" class="node"><ellipse cx="5392.8" cy="220" rx="36" ry="24"/><text x="5392.8" y="226">40</text></g>
<g id="q3" class="node"><ellipse cx="5291.8" cy="316" rx="36" ry="24"/><text x="5291.8" y="322">41</text></g>
<g id="q4" class="node"><ellipse cx="5389" cy="316" rx="36" ry="24"/><text x="5389" y="322">37</text></g>
<g id="r1" class="node"><ellipse cx="5488.9" cy="220" rx="36" ry="24"/><text x="5488.9" y="226">21</text></g>
<g id="r2" class="node"><ellipse cx="5585" cy="220" rx="36" ry="24"/><text x="5585" y="226">30</text></g>
<g id="s1" class="node"><ellipse cx="5690.2" cy="220" rx="45.7" ry="24"/><text x="5690.2" y="226">R3235</text></g>
<g id="s2" class="node"><ellipse cx="5837.2" cy="220" rx="39.3" ry="24"/><text x="5837.2" y="226">R222</text></g>
<g id="s3" class="node"><ellipse cx="5544.8" cy="316" rx="45.7" ry="24"/><text x="5544.8" y="322">R3374</text></g>
<g id="s4" class="node"><ellipse cx="5690.2" cy="316" rx="39.3" ry="24"/><text x="5690.2" y="322">R139</text></g>
<g id="s5" class="node"><ellipse cx="5837.2" cy="316" rx="39.3" ry="24"/><text x="5837.2" y="322">R139</text></g>
<g id="s6" class="node"><ellipse cx="5937" cy="316" rx="36" ry="24"/><text x="5937" y="322">23</text></g>
<g id="s7" class="node"><ellipse cx="5435.7" cy="412" rx="45.7" ry="24"/><text x="5435.7" y="418">R3233</text></g>
<g id="s8" class="node"><ellipse cx="5544.8" cy="412" rx="39.3" ry="24"/><text x="5544.8" y="418">R265</text></g>
<g id="s9" class="node"><ellipse cx="5645" cy="412" rx="36" ry="24"/><text x="5645" y="418">23</text></g>
<g id="s10" class="node"><ellipse cx="5741.1" cy="412" rx="36" ry="24"/><text x="5741.1" y="418">39</text></g>
<g id="s11" class="node"><ellipse cx="5837.2" cy="412" rx="36" ry="24"/><text x="5837.2" y="418">23</text></g>
<g id="s12" class="node"><ellipse cx="5932.8" cy="412" rx="36" ry="24"/><text x="5932.8" y="418">39</text></g>
<g id="s13" class="node"><ellipse cx="5343.5" cy="508" rx="36" ry="24"/><text x="5343.5" y="514">12</text></g>
<g id="s14" class="node"><ellipse cx="5439.5" cy="508" rx="36" ry="24"/><text x="5439.5" y="514">30</text></g>
<g id="s15" class="node"><ellipse cx="5542.1" cy="508" rx="36" ry="24"/><text x="5542.1" y="514">R25</text></g>
<g id="s16" class="node"><ellipse cx="5638.2" cy="508" rx="36" ry="24"/><text x="5638.2" y="514">39</text></g>
<g id="s17" class="node"><ellipse cx="5494.3" cy="604" rx="36" ry="24"/><text x="5494.3" y="610">39</text></g>
<g id="s18" class="node"><ellipse cx="5590.3" cy="604" rx="36" ry="24"/><text x="5590.3" y="610">30</text></g>
<g id="t1" class="node"><ellipse cx="6087.7" cy="220" rx="45.7" ry="24"/><text x="6087.7" y="226">R3416</text></g>
<g id="t2" class="node"><ellipse cx="6331.5" cy="220" rx="36" ry="24"/><text x="6331.5" y="226">R69</text></g>
<g id="t3" class="node"><ellipse cx="6087.7" cy="316" rx="45.7" ry="24"/><text x="6087.7" y="322">R3360</text></g>
<g id="t4" class="node"><ellipse cx="6226.3" cy="316" rx="45.7" ry="24"/><text x="6226.3" y="322">R3360</text></g>
<g id="t5" class="node"><ellipse cx="6331.5" cy="316" rx="36" ry="24"/><text x="6331.5" y="322">39</text></g>
<g id="t6" class="node"><ellipse cx="6427.8" cy="316" rx="36" ry="24"/><text x="6427.8" y="322">23</text></g>
<g id="t7" class="node"><ellipse cx="6038.3" cy="412" rx="45.7" ry="24"/><text x="6038.3" y="418">R1901</text></g>
<g id="t8" class="node"><ellipse cx="6143.9" cy="412" rx="36" ry="24"/><text x="6143.9" y="418">23</text></g>
<g id="t9" class="node"><ellipse cx="6249" cy="412" rx="45.7" ry="24"/><text x="6249" y="418">R1901</text></g>
<g id="t10" class="node"><ellipse cx="6354.6" cy="412" rx="36" ry="24"/><text x="6354.6" y="418">23</text></g>
<g id="t11" class="node"><ellipse cx="5957.1" cy="508" rx="39.3" ry="24"/><text x="5957.1" y="514">R774</text></g>
<g id="t12" class="node"><ellipse cx="6057.2" cy="508" rx="36" ry="24"/><text x="6057.2" y="514">39</text></g>
<g id="t13" class="node"><ellipse cx="6239.8" cy="508" rx="39.3" ry="24"/><text x="6239.8" y="514">R774</text></g>
<g id="t14" class="node"><ellipse cx="6340" cy="508" rx="36" ry="24"/><text x="6340" y="514">39</text></g>
<g id="t15" class="node"><ellipse cx="5934.7" cy="604" rx="39.3" ry="24"/><text x="5934.7" y="610">R664</text></g>
<g id="t16" class="node"><ellipse cx="6034.1" cy="604" rx="36" ry="24"/><text x="6034.1" y="610">23</text></g>
<g id="t17" class="node"><ellipse cx="6185.1" cy="604" rx="39.3" ry="24"/><text x="6185.1" y="610">R664</text></g>
<g id="t18" class="node"><ellipse cx="6285.3" cy="604" rx="36" ry="24"/><text x="6285.3" y="610">23</text></g>
<g id="t19" class="node"><ellipse cx="5890.4" cy="700" rx="39.3" ry="24"/><text x="5890.4" y="706">R645</text></g>
<g id="t20" class="node"><ellipse cx="5990.2" cy="700" rx="36" ry="24"/><text x="5990.2" y="706">39</text></g>
<g id="t21" class="node"><ellipse cx="6129.3" cy="700" rx="39.3" ry="24"/><text x="6129.3" y="706">R645</text></g>
<g id="t22" class="node"><ellipse cx="6229" cy="700" rx="36" ry="24"/><text x="6229" y="706">39</text></g>
<g id="t23" class="node"><ellipse cx="5860" cy="796" rx="39.3" ry="24"/><text x="5860" y="802">R165</text></g>
<g id="t24" class="node"><ellipse cx="5959.4" cy="796" rx="36" ry="24"/><text x="5959.4" y="802">23</text></g>
<g id="t25" class="node"><ellipse cx="6059.5" cy="796" rx="39.3" ry="24"/><text x="6059.5" y="802">R165</text></g>
<g id="t26" class="node"><ellipse cx="6159.7" cy="796" rx="36" ry="24"/><text x="6159.7" y="802">23</text></g>
<g id="t27" class="node"><ellipse cx="5814.2" cy="892" rx="36" ry="24"/><text x="5814.2" y="898">R69</text></g>
<g id="t28" class="node"><ellipse cx="5910.1" cy="892" rx="36" ry="24"/><text x="5910.1" y="898">39</text></g>
<g id="t29" class="node"><ellipse cx="6010.6" cy="892" rx="36" ry="24"/><text x="6010.6" y="898">R69</text></g>
<g id="t30" class="node"><ellipse cx="6106.1" cy="892" rx="36" ry="24"/><text x="6106.1" y="898">39</text></g>
<g id="t31" class="node"><ellipse cx="5766.4" cy="988" rx="36" ry="24"/><text x="5766.4" y="994">39</text></g>
<g id="t32" class="node"><ellipse cx="5862.4" cy="988" rx="36" ry="24"/><text x="5862.4" y="994">23</text></g>
<g id="t33" class="node"><ellipse cx="5982.1" cy="988" rx="36" ry="24"/><text x="5982.1" y="994">39</text></g>
<g id="t34" class="node"><ellipse cx="6078" cy="988" rx="36" ry="24"/><text x="6078" y="994">23</text></g>
</g>
</svg>
